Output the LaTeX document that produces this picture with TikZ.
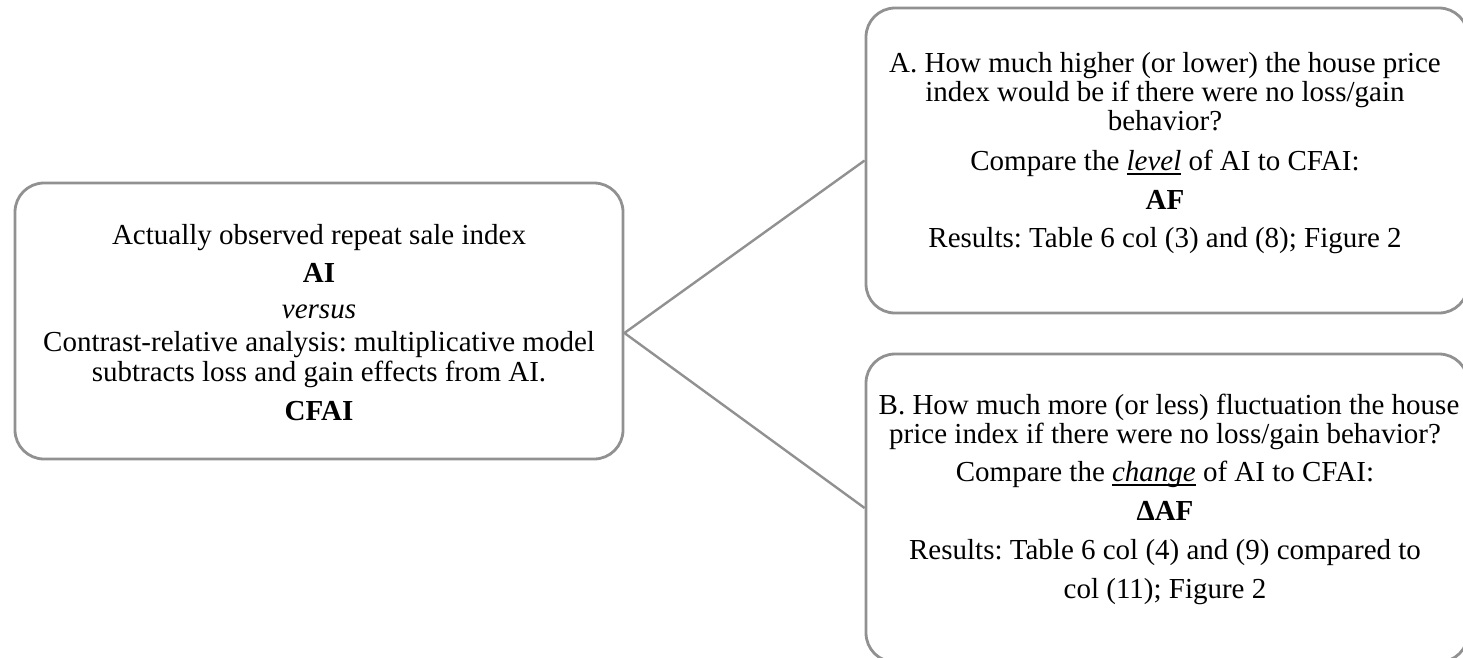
\documentclass[tikz,border=0pt]{standalone}
\usepackage{fontspec}
\setmainfont{Liberation Serif}
\definecolor{lineg}{RGB}{145,145,145}
\newcommand{\thickul}[1]{\setbox0\hbox{#1}\rlap{\rule[-5pt]{\wd0}{1.8pt}}\box0\relax}
\tikzset{
  box/.style={draw=lineg, line width=2.8pt, rounded corners=29pt, inner sep=0pt, minimum width=#1},
  box/.default=602pt,
  conn/.style={draw=lineg, line width=2.4pt},
  txt/.style={anchor=base, inner sep=0pt, font=\fontsize{29}{30}\selectfont\frenchspacing}
}
\begin{document}
\begin{tikzpicture}[x=1pt,y=-1pt]
\useasboundingbox (0,0) rectangle (1463,657);
% boxes
\node[box=608pt, minimum height=276pt] (L) at (319,321) {};
\node[box, minimum height=305pt] (TR) at (1167,160.5) {};
\node[box, minimum height=308pt] (BR) at (1167,508) {};
% connectors
\coordinate (v) at ([yshift=-12pt]L.east);
\draw[conn] (v) -- (TR.west);
\draw[conn] (v) -- (BR.west);
% left text
\node[txt] (l1) at (319,244) {Actually observed repeat sale index};
\node[txt] (l2) at (319,282) {\textbf{AI}};
\node[txt] (l3) at (319,318) {\textit{versus}};
\node[txt] (l4) at (319,351) {Contrast-relative analysis: multiplicative model};
\node[txt] (l5) at (319,381) {subtracts loss and gain effects from AI.};
\node[txt] (l6) at (319,420) {\textbf{CFAI}};
% top-right text
\node[txt] (a1) at (1165,72) {A. How much higher (or lower) the house price};
\node[txt] (a2) at (1165,101) {index would be if there were no loss/gain};
\node[txt] (a3) at (1165,130) {behavior?};
\node[txt] (a4) at (1165,170) {Compare the \thickul{\textit{level}} of AI to CFAI:};
\node[txt] (a5) at (1165,209) {\textbf{AF}};
\node[txt] (a6) at (1165,247) {Results: Table 6 col (3) and (8); Figure 2};
% bottom-right text
\node[txt] (b1) at (1169,414) {B. How much more (or less) fluctuation the house};
\node[txt] (b2) at (1165,443) {price index if there were no loss/gain behavior?};
\node[txt] (b3) at (1165,481) {Compare the \thickul{\textit{change}} of AI to CFAI:};
\node[txt] (b4) at (1165,520) {\textbf{ΔAF}};
\node[txt] (b5) at (1165,559) {Results: Table 6 col (4) and (9) compared to};
\node[txt] (b6) at (1165,598) {col (11); Figure 2};
\end{tikzpicture}
\end{document}
